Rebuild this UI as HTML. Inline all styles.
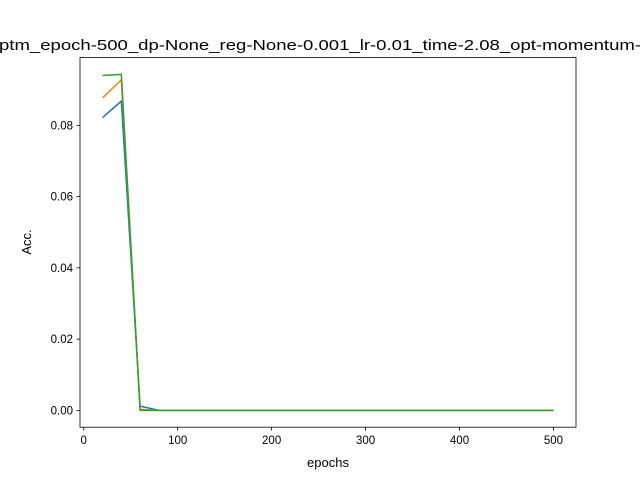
<!DOCTYPE html>
<html><head><meta charset="utf-8"><style>
body{margin:0;background:#fff;font-family:"Liberation Sans",sans-serif}
svg text{font-family:"Liberation Sans",sans-serif}
</style></head><body>
<svg id="chart" width="640" height="480" xmlns="http://www.w3.org/2000/svg">
<rect width="640" height="480" fill="#fff"/>
<text x="320" y="50" text-anchor="middle" font-size="15" textLength="642" lengthAdjust="spacingAndGlyphs">ptm_epoch-500_dp-None_reg-None-0.001_lr-0.01_time-2.08_opt-momentum-</text>
<g id="plot"></g>
<rect x="80" y="57.6" width="496" height="369.6" fill="none" stroke="#000" stroke-width="0.8"/>
<text x="328" y="467" text-anchor="middle" font-size="13">epochs</text>
<text transform="translate(31,242) rotate(-90)" text-anchor="middle" font-size="13">Acc.</text>
</svg>
<script>
const epochs=[20,40,60,80,100,120,140,160,180,200,220,240,260,280,300,320,340,360,380,400,420,440,460,480,500];
const series1=[0.0822,0.0868,0.0012,0,0,0,0,0,0,0,0,0,0,0,0,0,0,0,0,0,0,0,0,0,0];
const series2=[0.0877,0.0928,0.0003,0,0,0,0,0,0,0,0,0,0,0,0,0,0,0,0,0,0,0,0,0,0];
const series3=[0.0940,0.0943,0,0,0,0,0,0,0,0,0,0,0,0,0,0,0,0,0,0,0,0,0,0,0];
const xTicks=[0,100,200,300,400,500];
const yTicks=[0,0.02,0.04,0.06,0.08];
const colors=['#1f77b4','#ff7f0e','#2ca02c'];
const L=80,R=576,T=57.6,B=427.2;
const all=[...series1,...series2,...series3];
const xmin0=Math.min(...epochs),xmax0=Math.max(...epochs);
const ymin0=Math.min(...all),ymax0=Math.max(...all);
const xm=(xmax0-xmin0)*0.05,ym=(ymax0-ymin0)*0.05;
const x0=xmin0-xm,x1=xmax0+xm,y0=ymin0-ym,y1=ymax0+ym;
const sx=v=>L+(v-x0)/(x1-x0)*(R-L);
const sy=v=>B-(v-y0)/(y1-y0)*(B-T);
const g=document.getElementById('plot');
const NS='http://www.w3.org/2000/svg';
function mk(t,a){const e=document.createElementNS(NS,t);for(const k in a)e.setAttribute(k,a[k]);return e;}
xTicks.forEach(v=>{
 const l=mk('line',{x1:sx(v),x2:sx(v),y1:B,y2:B+3.5,stroke:'#000','stroke-width':0.8});
 
 
 g.appendChild(l);
 const t=mk('text',{x:sx(v),y:B+17,'text-anchor':'middle','font-size':11.5});
 
 
 t.textContent=v;g.appendChild(t);
});
yTicks.forEach(v=>{
 const l=mk('line',{x1:L-3.5,x2:L,y1:sy(v),y2:sy(v),stroke:'#000','stroke-width':0.8});
 
 
 g.appendChild(l);
 const t=mk('text',{x:L-7,y:sy(v)+4,'text-anchor':'end','font-size':11.5});
 
 
 t.textContent=v.toFixed(2);g.appendChild(t);
});
[series1,series2,series3].forEach((s,i)=>{
 const p=mk('polyline',{points:s.map((v,j)=>sx(epochs[j])+','+sy(v)).join(' '),fill:'none',stroke:colors[i],'stroke-width':1.5});
 
 
 g.appendChild(p);
});
</script>
</body></html>
